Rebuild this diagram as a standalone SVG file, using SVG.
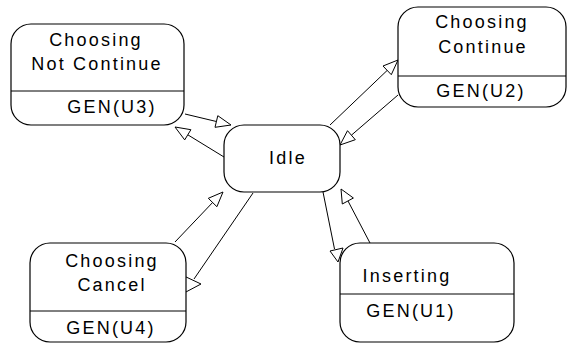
<svg xmlns="http://www.w3.org/2000/svg" width="570" height="347" viewBox="0 0 570 347">
  <style>
    .box { fill: #ffffff; stroke: #000000; stroke-width: 1.2; }
    .div { stroke: #000000; stroke-width: 1; }
    .lbl { font-family: "Liberation Sans", Arial, sans-serif; font-size: 18px; letter-spacing: 2.2px; fill: #000000; text-anchor: middle; }
    .edge { stroke: #000000; stroke-width: 1; fill: none; }
    .head { fill: #ffffff; stroke: #000000; stroke-width: 1; stroke-linejoin: miter; }
  </style>
  <rect width="570" height="347" fill="#ffffff"/>

  <!-- transitions between states (drawn under the state boxes) -->
  <g id="connectors">
    <!-- Choosing Not Continue -> Idle -->
    <line class="edge" x1="185" y1="114" x2="216.4" y2="121.5"/>
    <polygon class="head" points="231,125 215,127.3 217.8,115.7"/>
    <!-- Idle -> Choosing Not Continue -->
    <line class="edge" x1="224" y1="157" x2="187.8" y2="134.8"/>
    <polygon class="head" points="175,127 184.7,139.9 190.9,129.7"/>
    <!-- Idle -> Choosing Continue -->
    <line class="edge" x1="330" y1="125" x2="387.2" y2="70.4"/>
    <polygon class="head" points="398,60 383,66 391.3,74.7"/>
    <!-- Choosing Continue -> Idle -->
    <line class="edge" x1="398" y1="95" x2="351.4" y2="135.2"/>
    <polygon class="head" points="340,145 347.5,130.7 355.3,139.7"/>
    <!-- Choosing Cancel -> Idle -->
    <line class="edge" x1="175" y1="242" x2="212.6" y2="202.5"/>
    <polygon class="head" points="223,192 208.3,198.3 216.9,206.7"/>
    <!-- Idle -> Choosing Cancel -->
    <line class="edge" x1="253" y1="193" x2="194" y2="279"/>
    <polygon class="head" points="184,276 201,284 184,293"/>
    <!-- Inserting -> Idle -->
    <line class="edge" x1="370" y1="243" x2="348" y2="201"/>
    <polygon class="head" points="341,189 353.4,198 342.3,204"/>
    <!-- Idle -> Inserting -->
    <line class="edge" x1="323" y1="192" x2="334.5" y2="249"/>
    <polygon class="head" points="330,251 343,248 338,262"/>
  </g>

  <g id="choosing-not-continue">
    <rect class="box" x="11" y="24" width="173" height="101" rx="20" ry="20"/>
    <line class="div" x1="11" y1="91" x2="184" y2="91"/>
    <text class="lbl" x="96" y="46">Choosing</text>
    <text class="lbl" x="97" y="70">Not Continue</text>
    <text class="lbl" x="112" y="113">GEN(U3)</text>
  </g>

  <g id="choosing-continue">
    <rect class="box" x="398" y="7" width="168" height="100" rx="20" ry="20"/>
    <line class="div" x1="398" y1="76" x2="566" y2="76"/>
    <text class="lbl" x="482" y="28">Choosing</text>
    <text class="lbl" x="483" y="53">Continue</text>
    <text class="lbl" x="481" y="97">GEN(U2)</text>
  </g>

  <g id="idle">
    <rect class="box" x="224" y="125" width="116" height="67" rx="20" ry="20"/>
    <text class="lbl" x="288" y="164">Idle</text>
  </g>

  <g id="choosing-cancel">
    <rect class="box" x="30" y="243" width="156" height="99" rx="20" ry="20"/>
    <line class="div" x1="30" y1="311" x2="186" y2="311"/>
    <text class="lbl" x="112" y="267">Choosing</text>
    <text class="lbl" x="112" y="291">Cancel</text>
    <text class="lbl" x="111" y="334">GEN(U4)</text>
  </g>

  <g id="inserting">
    <rect class="box" x="340" y="243" width="174" height="99" rx="20" ry="20"/>
    <line class="div" x1="340" y1="294" x2="514" y2="294"/>
    <text class="lbl" x="407" y="282">Inserting</text>
    <text class="lbl" x="411" y="317">GEN(U1)</text>
  </g>
</svg>
